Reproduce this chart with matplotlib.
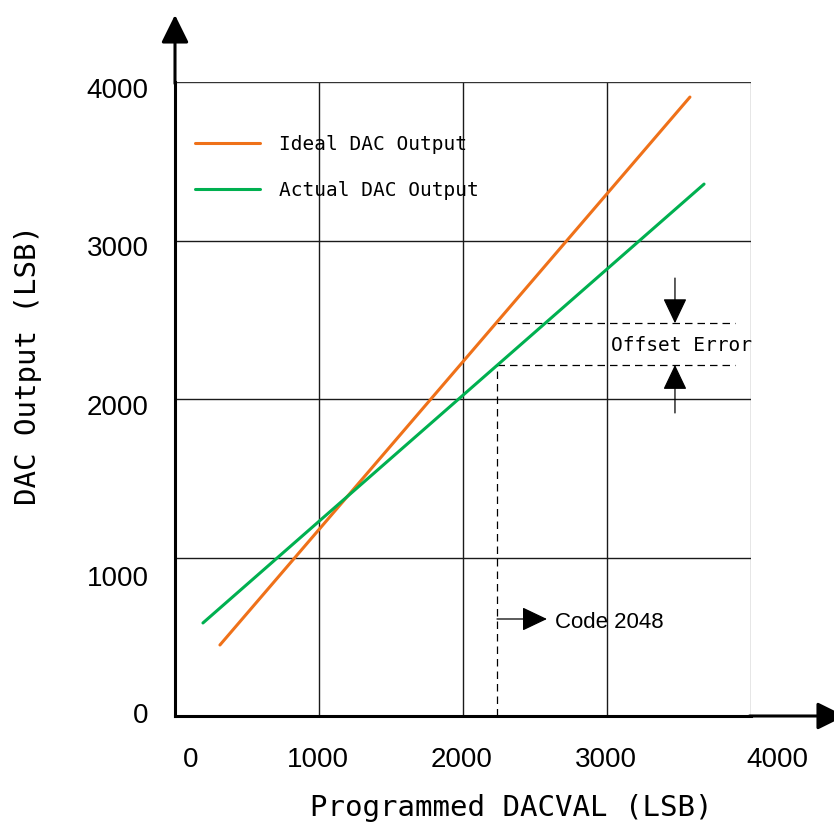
import matplotlib
matplotlib.use("Agg")
import matplotlib.pyplot as plt
from matplotlib.transforms import ScaledTranslation

# ---- data ----
ideal_x = [312, 3576]
ideal_y = [448, 3905]
actual_x = [194, 3674]
actual_y = [587, 3356]
code_x = 2236            # position of "Code 2048"
ideal_at_code = 2478
actual_at_code = 2215
dash_end_x = 3890
offset_arrow_x = 3472
offset_top_start = 2763
offset_bot_start = 1912
code_arrow_y = 612
code_arrow_end = 2583
xticks = [0, 1000, 2000, 3000, 4000]
yticks = [0, 1000, 2000, 3000, 4000]
tick_labels = ["0", "1000", "2000", "3000", "4000"]
series_names = ["Ideal DAC Output", "Actual DAC Output"]

ORANGE = "#EF7119"
GREEN = "#00B050"
MONO = "DejaVu Sans Mono"
SANS = ["Liberation Sans", "DejaVu Sans"]

fig = plt.figure(figsize=(8.34, 8.27), dpi=100)
ax = fig.add_axes([175 / 834, 111 / 827, 576 / 834, 634 / 827])
ax.set_xlim(0, 4000)
ax.set_ylim(0, 4000)

ax.plot(ideal_x, ideal_y, color=ORANGE, lw=2.2, solid_capstyle="round",
        label=series_names[0], zorder=3)
ax.plot(actual_x, actual_y, color=GREEN, lw=2.2, solid_capstyle="round",
        label=series_names[1], zorder=3)

# grid
ax.set_xticks(xticks)
ax.set_yticks(yticks)
ax.set_xticklabels(tick_labels, family=SANS, fontsize=20)
ax.set_yticklabels(tick_labels, family=SANS, fontsize=20)
ax.tick_params(length=0)
ax.tick_params(axis="x", pad=22)
ax.tick_params(axis="y", pad=19)
ax.grid(True, color="#1a1a1a", lw=1.0, zorder=1)
ax.get_xgridlines()[-1].set_color("#808080")
ax.get_ygridlines()[-1].set_color("#333333")

# nudge tick labels (in points)
xn = [11, -1, -1, -1, 19]
yn = [2, -13, -4, -4, -4]
for lab, dx in zip(ax.get_xticklabels(), xn):
    lab.set_transform(lab.get_transform() + ScaledTranslation(dx / 72, 0, fig.dpi_scale_trans))
for lab, dy in zip(ax.get_yticklabels(), yn):
    lab.set_transform(lab.get_transform() + ScaledTranslation(0, dy / 72, fig.dpi_scale_trans))

for s in ["top", "right"]:
    ax.spines[s].set_visible(False)
for s in ["left", "bottom"]:
    ax.spines[s].set_linewidth(2.2)
    ax.spines[s].set_zorder(5)

# axis arrows
ax.annotate("", xy=(4653, 0), xytext=(3990, 0), annotation_clip=False,
            arrowprops=dict(arrowstyle="-|>,head_length=0.85,head_width=0.42",
                            mutation_scale=20, lw=2.2, color="black", shrinkA=0, shrinkB=0))
ax.annotate("", xy=(0, 4423), xytext=(0, 3990), annotation_clip=False,
            arrowprops=dict(arrowstyle="-|>,head_length=0.85,head_width=0.42",
                            mutation_scale=20, lw=2.2, color="black", shrinkA=0, shrinkB=0))

# dashed guides
dash = dict(color="black", lw=0.9, ls=(0, (6, 4)), zorder=2)
ax.plot([code_x, dash_end_x], [ideal_at_code, ideal_at_code], **dash)
ax.plot([code_x, dash_end_x], [actual_at_code, actual_at_code], **dash)
ax.plot([code_x, code_x], [0, actual_at_code], **dash)

# offset error arrows
small = dict(arrowstyle="-|>,head_length=1.05,head_width=0.5", mutation_scale=15,
             lw=0.9, color="black", shrinkA=0, shrinkB=0)
ax.annotate("", xy=(offset_arrow_x, ideal_at_code), xytext=(offset_arrow_x, offset_top_start),
            arrowprops=small)
ax.annotate("", xy=(offset_arrow_x, actual_at_code), xytext=(offset_arrow_x, offset_bot_start),
            arrowprops=small)
ax.text(3030, (ideal_at_code + actual_at_code) / 2 - 10, "Offset Error", family=MONO,
        fontsize=14, ha="left", va="center", zorder=4)

# code arrow
ax.annotate("", xy=(code_arrow_end, code_arrow_y), xytext=(code_x, code_arrow_y),
            arrowprops=small)
ax.text(2640, code_arrow_y - 20, "Code 2048", family=SANS, fontsize=16,
        ha="left", va="center")

# legend
leg = ax.legend(loc="upper left", bbox_to_anchor=(0.034, 0.916), frameon=False,
                prop=dict(family=MONO, size=14), handlelength=3.35,
                handletextpad=1.0, labelspacing=1.35, borderpad=0, borderaxespad=0)

# axis labels
ax.set_xlabel("Programmed DACVAL (LSB)", family=MONO, fontsize=21, va="center")
ax.set_ylabel("DAC Output (LSB)", family=MONO, fontsize=21, va="center")
ax.xaxis.set_label_coords((511 - 175) / 576, (716 - 808) / 634)
ax.yaxis.set_label_coords((28 - 175) / 576, (716 - 365) / 634)

fig.savefig("out.png", dpi=100)
